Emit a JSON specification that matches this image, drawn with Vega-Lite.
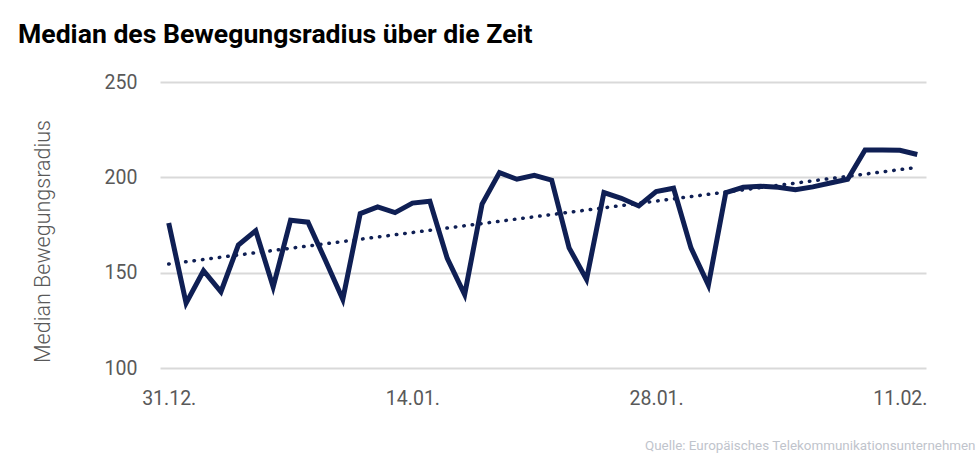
{
  "$schema": "https://vega.github.io/schema/vega-lite/v6.json",
  "autosize": {"type": "none"},
  "width": 766,
  "height": 286,
  "padding": {"left": 160, "top": 82, "right": 52, "bottom": 94},
  "background": "white",
  "config": {"view": {"stroke": null}, "font": "Roboto"},
  "title": {
    "text": "Median des Bewegungsradius über die Zeit",
    "anchor": "start",
    "frame": "group",
    "font": "Roboto",
    "fontSize": 26.6,
    "fontWeight": "bold",
    "color": "#000000",
    "dx": -142,
    "offset": 23
  },
  "data": {
    "values": [
      {"date": "2020-12-31", "radius": 176},
      {"date": "2021-01-01", "radius": 134},
      {"date": "2021-01-02", "radius": 151},
      {"date": "2021-01-03", "radius": 140},
      {"date": "2021-01-04", "radius": 164.5},
      {"date": "2021-01-05", "radius": 172},
      {"date": "2021-01-06", "radius": 142.5},
      {"date": "2021-01-07", "radius": 177.5},
      {"date": "2021-01-08", "radius": 176.5},
      {"date": "2021-01-09", "radius": 156.5},
      {"date": "2021-01-10", "radius": 136},
      {"date": "2021-01-11", "radius": 181},
      {"date": "2021-01-12", "radius": 184.5},
      {"date": "2021-01-13", "radius": 181.5},
      {"date": "2021-01-14", "radius": 186.5},
      {"date": "2021-01-15", "radius": 187.5},
      {"date": "2021-01-16", "radius": 157.5},
      {"date": "2021-01-17", "radius": 138.5},
      {"date": "2021-01-18", "radius": 186},
      {"date": "2021-01-19", "radius": 202.5},
      {"date": "2021-01-20", "radius": 199},
      {"date": "2021-01-21", "radius": 201},
      {"date": "2021-01-22", "radius": 198.5},
      {"date": "2021-01-23", "radius": 163},
      {"date": "2021-01-24", "radius": 146.5},
      {"date": "2021-01-25", "radius": 192},
      {"date": "2021-01-26", "radius": 189},
      {"date": "2021-01-27", "radius": 185},
      {"date": "2021-01-28", "radius": 192.5},
      {"date": "2021-01-29", "radius": 194.3},
      {"date": "2021-01-30", "radius": 163},
      {"date": "2021-01-31", "radius": 143.5},
      {"date": "2021-02-01", "radius": 192},
      {"date": "2021-02-02", "radius": 194.8},
      {"date": "2021-02-03", "radius": 195.3},
      {"date": "2021-02-04", "radius": 194.8},
      {"date": "2021-02-05", "radius": 193.5},
      {"date": "2021-02-06", "radius": 195},
      {"date": "2021-02-07", "radius": 197},
      {"date": "2021-02-08", "radius": 199},
      {"date": "2021-02-09", "radius": 214.3},
      {"date": "2021-02-10", "radius": 214.3},
      {"date": "2021-02-11", "radius": 214.2},
      {"date": "2021-02-12", "radius": 212}
    ]
  },
  "encoding": {
    "x": {
      "field": "date",
      "type": "temporal",
      "scale": {
        "type": "utc",
        "domain": [
          {"year": 2020, "month": 12, "date": 30, "hours": 12, "utc": true},
          {"year": 2021, "month": 2, "date": 12, "hours": 12, "utc": true}
        ]
      },
      "axis": {
        "values": [
          {"year": 2020, "month": 12, "date": 31, "utc": true},
          {"year": 2021, "month": 1, "date": 14, "utc": true},
          {"year": 2021, "month": 1, "date": 28, "utc": true},
          {"year": 2021, "month": 2, "date": 11, "utc": true}
        ],
        "format": "%d.%m.",
        "grid": false,
        "domain": false,
        "ticks": false,
        "labelFontSize": 19.5,
        "labelColor": "#595959",
        "labelPadding": 21,
        "title": "Quelle: Europäisches Telekommunikationsunternehmen",
        "titleFontSize": 13.4,
        "titleFontWeight": "normal",
        "titleColor": "#bfc4cc",
        "titleAlign": "right",
        "titleAnchor": "end",
        "titleBaseline": "alphabetic",
        "titleX": 815,
        "titleY": 81
      }
    },
    "y": {
      "field": "radius",
      "type": "quantitative",
      "scale": {"domain": [100, 250], "zero": false},
      "axis": {
        "values": [100, 150, 200, 250],
        "grid": true,
        "gridColor": "#d9d9d9",
        "gridWidth": 2,
        "domain": false,
        "ticks": false,
        "labelFontSize": 19.5,
        "labelColor": "#595959",
        "labelPadding": 23,
        "title": "Median Bewegungsradius",
        "titleFontSize": 21.5,
        "titleFontWeight": 300,
        "titleColor": "#595959",
        "titleAngle": -90,
        "titleAlign": "center",
        "titleBaseline": "middle",
        "titleX": -117,
        "titleY": 159
      }
    }
  },
  "layer": [
    {
      "mark": {"type": "line", "color": "#0f1f54", "strokeWidth": 5, "strokeJoin": "miter"}
    },
    {
      "transform": [{"regression": "radius", "on": "date"}],
      "mark": {"type": "line", "color": "#0f1f54", "strokeWidth": 3.5, "strokeCap": "round", "strokeDash": [0.5, 8]}
    }
  ]
}
